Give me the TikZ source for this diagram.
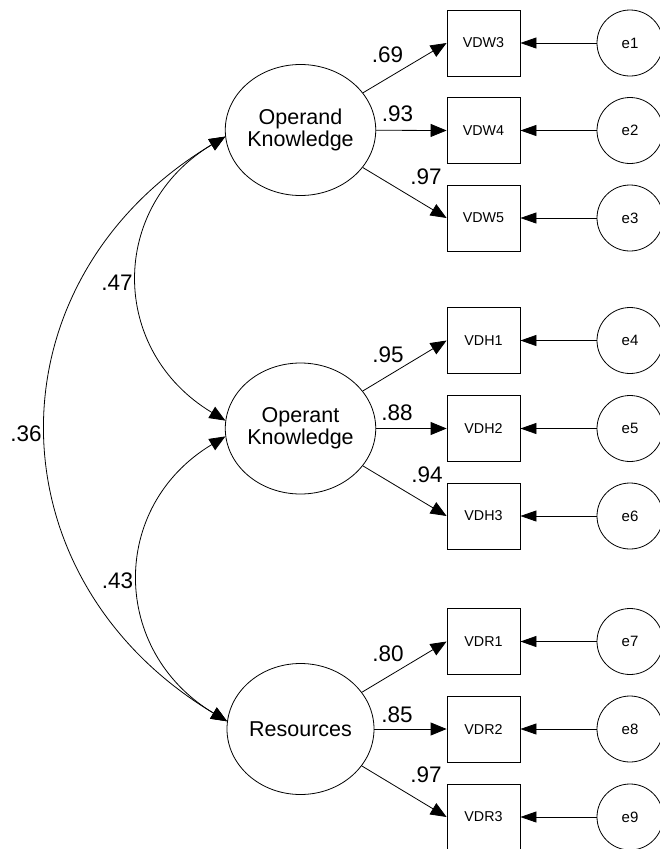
\documentclass[tikz,border=0pt]{standalone}
\usepackage{fontspec}
\setmainfont{Liberation Sans}
\usetikzlibrary{shapes.geometric,arrows.meta}
\begin{document}
\begin{tikzpicture}[x=1pt,y=1pt,line width=0.8pt,
  latent/.style={draw, ellipse, minimum width=147pt, minimum height=131pt,
    inner sep=0pt, align=center, font=\fontsize{21.5}{22}\selectfont},
  observed/.style={draw, rectangle, minimum width=73pt, minimum height=66pt,
    inner sep=0pt, font=\fontsize{14.3}{16}\selectfont},
  errorterm/.style={draw, circle, minimum size=66pt, inner sep=0pt,
    font=\fontsize{15}{17}\selectfont},
  weight/.style={inner sep=0pt, font=\fontsize{22.5}{24}\selectfont},
  loadarrow/.style={-{Triangle[length=16pt,width=13pt]}},
  errarrow/.style={-{Triangle[length=16pt,width=11pt]}},
  covarrow/.style={{Triangle[length=16pt,width=13pt]}-{Triangle[length=16pt,width=13pt]}},
]
\useasboundingbox (0,0) rectangle (659,-849);

% latent factors
\node[latent] (ok) at (300.5,-130)   {Operand\\Knowledge};
\node[latent] (op) at (300.5,-428.5) {Operant\\Knowledge};
\node[latent] (rs) at (300.5,-729)   {Resources};

% indicators
\node[observed] (w3) at (483.5,-43)    {VDW3};
\node[observed] (w4) at (483.5,-130.5) {VDW4};
\node[observed] (w5) at (483.5,-218)   {VDW5};
\node[observed] (h1) at (483.5,-340.5) {VDH1};
\node[observed] (h2) at (483.5,-428.5) {VDH2};
\node[observed] (h3) at (483.5,-516)   {VDH3};
\node[observed] (r1) at (483.5,-641.5) {VDR1};
\node[observed] (r2) at (483.5,-729)   {VDR2};
\node[observed] (r3) at (483.5,-817)   {VDR3};

% error terms
\node[errorterm] (e1) at (630,-43)    {e1};
\node[errorterm] (e2) at (630,-130.5) {e2};
\node[errorterm] (e3) at (630,-218)   {e3};
\node[errorterm] (e4) at (630,-340.5) {e4};
\node[errorterm] (e5) at (630,-428.5) {e5};
\node[errorterm] (e6) at (630,-516)   {e6};
\node[errorterm] (e7) at (630,-641.5) {e7};
\node[errorterm] (e8) at (630,-729)   {e8};
\node[errorterm] (e9) at (630,-817)   {e9};

% factor loadings
\draw[loadarrow] (ok) -- (w3.west);
\draw[loadarrow] (ok) -- (w4.west);
\draw[loadarrow] (ok) -- (w5.west);
\draw[loadarrow] (op) -- (h1.west);
\draw[loadarrow] (op) -- (h2.west);
\draw[loadarrow] (op) -- (h3.west);
\draw[loadarrow] (rs) -- (r1.west);
\draw[loadarrow] (rs) -- (r2.west);
\draw[loadarrow] (rs) -- (r3.west);

% error paths
\foreach \e/\v in {e1/w3,e2/w4,e3/w5,e4/h1,e5/h2,e6/h3,e7/r1,e8/r2,e9/r3}
  \draw[errarrow] (\e.west) -- (\v.east);

% loading values
\node[weight] (l69) at (387.5,-55)  {.69};
\node[weight] (l93) at (397.5,-114) {.93};
\node[weight] (l97a) at (426,-176.5) {.97};
\node[weight] (l95) at (388,-355)   {.95};
\node[weight] (l88) at (397,-412.5) {.88};
\node[weight] (l94) at (427,-475)   {.94};
\node[weight] (l80) at (388,-653.5) {.80};
\node[weight] (l85) at (397,-715)   {.85};
\node[weight] (l97b) at (426,-774.5) {.97};

% correlations between factors
\draw[covarrow] (ok.185) .. controls +(211:136) and +(149:136) .. (op.174);
\draw[covarrow] (op.186) .. controls +(211:136) and +(149:136) .. (rs.174);
\draw[covarrow] (ok.185) .. controls +(211:279) and +(149:279) .. (rs.174);

\node[weight] (c47) at (117,-283)   {.47};
\node[weight] (c43) at (117.5,-581) {.43};
\node[weight] (c36) at (26,-434)    {.36};
\end{tikzpicture}
\end{document}
